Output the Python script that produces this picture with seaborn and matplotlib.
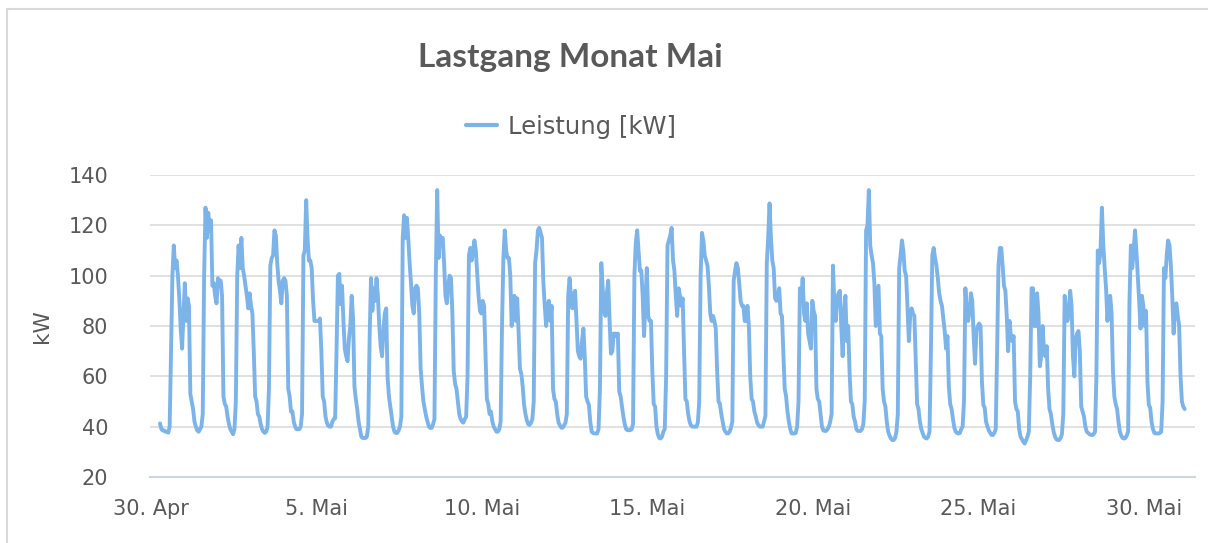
import numpy as np
import pandas as pd
import matplotlib
matplotlib.use("Agg")
import matplotlib.pyplot as plt
from matplotlib.lines import Line2D
import seaborn as sns

# Hourly load values (kW), one list per day
d_apr30 = [41.3, 39, 38.5, 38.5, 38, 38, 37.6, 40, 70, 100, 112, 103, 106, 100, 91, 79, 71, 84, 97, 82, 91, 88, 53, 50]
d_may01 = [47, 42, 40, 38.5, 38, 39, 40, 45, 100, 127, 115, 125, 118, 122, 96, 97, 92, 89, 99, 98, 98, 92, 52, 49]
d_may02 = [48, 44, 41, 39, 38, 37, 39, 50, 100, 112, 103, 115, 103, 100, 96, 92, 87, 93, 88, 85, 70, 52, 50, 45]
d_may03 = [44, 41, 39, 38, 37.5, 38, 40, 55, 104, 107, 108, 118, 116, 105, 98, 94, 89, 98, 99, 98, 92, 55, 52, 46]
d_may04 = [46, 42, 40, 39, 39, 39, 40, 45, 108, 110, 130, 115, 106, 106, 103, 90, 82, 82, 82, 82, 83, 70, 52, 50]
d_may05 = [44, 41.6, 40.3, 40, 40, 42, 43, 43.3, 70, 100, 100.7, 88.7, 96, 82, 71, 68, 66, 75, 80, 92, 83, 56, 51, 47]
d_may06 = [42, 39, 36, 35.5, 35.5, 35.5, 36, 40, 75, 99, 86, 95, 90, 99, 92, 80, 72, 68, 78, 85, 87, 60, 52, 48]
d_may07 = [44, 40, 38, 37.5, 37.5, 38.5, 40, 44, 115, 124, 115, 123, 115, 105, 97, 88, 85, 95, 96, 95, 85, 63, 56, 50]
d_may08 = [47, 44, 42, 40, 39.5, 39.5, 41, 43, 100, 134, 107, 116, 114, 115, 105, 92, 89, 96, 100, 99, 85, 62, 57, 55]
d_may09 = [50, 45, 43, 42, 41.6, 43, 44, 60, 108, 111, 106, 110, 114, 110, 101, 92, 86, 85, 90, 88, 70, 51, 49, 45]
d_may10 = [46, 42, 40, 39, 38, 38, 39, 42, 80, 107, 118, 110, 107, 107, 100, 80, 88, 92, 82, 91, 78, 63, 61, 56]
d_may11 = [48.7, 45, 42.5, 41, 40.7, 41.5, 43, 50, 105, 110, 118, 119, 117, 115, 97, 88, 80, 88, 90, 82, 88, 55, 51, 50]
d_may12 = [45, 41.6, 40.5, 39.6, 39.6, 40.5, 41.5, 45, 92, 99, 92, 87, 92, 94, 82, 70, 68, 67, 74, 79, 68, 52, 50, 48.7]
d_may13 = [42, 38, 37.5, 37.3, 37.3, 37.3, 39, 55, 105, 95, 86, 84, 93, 98, 82, 69, 70, 77, 77, 76, 77, 54, 52, 48]
d_may14 = [44, 41, 39, 38.6, 38.6, 38.6, 39, 41, 100, 113, 118, 110, 102, 102, 92, 76, 90, 103, 84, 82, 82, 62, 49, 48]
d_may15 = [40, 37, 35.5, 35.3, 36, 38, 39, 60, 112, 114, 116, 119, 106, 102, 92, 84, 95, 92, 88, 91, 70, 51, 50, 45]
d_may16 = [42, 40.5, 40, 40, 40, 40, 41.6, 50, 100, 117, 114, 108, 106, 104, 96, 85, 82, 84, 82, 79, 62, 50, 49, 45]
d_may17 = [42, 39, 38, 37.3, 37.3, 38, 39.5, 42, 98, 102, 105, 103, 97, 90, 88, 88, 82, 82, 88, 80, 60, 51, 50, 46]
d_may18 = [44, 41.6, 40.5, 40, 40, 40, 42, 44.3, 105, 115, 128.7, 115, 106, 103, 91, 90, 92, 95, 85, 84, 70, 55, 52, 46]
d_may19 = [42, 39, 37.3, 37.3, 37.3, 37.5, 40, 50, 95, 90, 99, 85, 82, 89, 77, 74, 71, 90, 86, 84, 55, 51, 50, 45]
d_may20 = [40, 38.5, 38.3, 38.3, 39, 40, 42, 45, 104, 88, 82, 91, 93, 94, 80, 68, 85, 92, 74, 80, 62, 50, 49, 44]
d_may21 = [42, 39, 38.3, 38.3, 38.3, 39, 41, 50, 118, 120, 134, 112, 108, 105, 97, 80, 88, 96, 77, 76, 55, 50, 48, 42]
d_may22 = [38, 36.5, 35.3, 34.7, 34.7, 35.5, 38, 45, 103, 108, 114, 110, 102, 100, 88, 74, 84, 87, 85, 84, 66, 49, 47, 42]
d_may23 = [39, 37.5, 36, 35.5, 35.3, 36, 38, 70, 108, 111, 107, 104, 99, 93, 90, 88, 83, 78, 71, 76, 56, 49, 47, 43]
d_may24 = [39.5, 38, 37.5, 37.3, 37.5, 39, 40, 50, 95, 85, 82, 86, 93, 90, 76, 65, 78, 80, 81, 80, 58, 48.7, 47.5, 42]
d_may25 = [40, 38.5, 37.5, 36.7, 36.7, 37.5, 39, 70, 104, 111, 111, 104, 96, 94, 84, 70, 82, 76, 74, 76, 50, 47, 46, 39]
d_may26 = [36, 35, 34, 33.3, 34.5, 36, 38, 60, 95, 95, 80, 80, 93, 85, 64, 68, 80, 70, 68, 72, 55, 47, 45, 41]
d_may27 = [38, 36, 35, 34.7, 34.7, 35.5, 37, 45, 92, 86, 82, 86, 94, 88, 68, 60, 75, 77, 78, 70, 48, 46, 44, 40]
d_may28 = [38, 37.5, 37, 36.7, 36.7, 37, 38, 60, 110, 105, 110, 127, 112, 103, 95, 82, 90, 92, 85, 62, 52, 49, 47, 42]
d_may29 = [38, 36.5, 35.5, 35.3, 35.5, 36.5, 38, 90, 112, 103, 110, 118, 110, 100, 90, 79, 92, 88, 80, 86, 58, 48.7, 47.5, 42]
d_may30 = [39, 37.5, 37.3, 37.3, 37.3, 37.5, 38, 50, 103, 99, 108, 114, 112, 104, 92, 77, 88, 89, 84, 80, 60, 50, 48, 47]

days = [d_apr30, d_may01, d_may02, d_may03, d_may04, d_may05, d_may06, d_may07,
        d_may08, d_may09, d_may10, d_may11, d_may12, d_may13, d_may14, d_may15,
        d_may16, d_may17, d_may18, d_may19, d_may20, d_may21, d_may22, d_may23,
        d_may24, d_may25, d_may26, d_may27, d_may28, d_may29, d_may30]

tick_dates = ["2024-04-30", "2024-05-05", "2024-05-10", "2024-05-15",
              "2024-05-20", "2024-05-25", "2024-05-30"]
tick_labels = ["30. Apr", "5. Mai", "10. Mai", "15. Mai", "20. Mai", "25. Mai", "30. Mai"]
y_ticks = [20, 40, 60, 80, 100, 120, 140]

values = [v for d in days for v in d]
times = pd.date_range("2024-04-30 06:30", periods=len(values), freq="h")
df = pd.DataFrame({"Zeit": times, "Leistung": values})

sns.set_theme(style="white")
plt.rcParams["font.family"] = ["DejaVu Sans"]

TXT = "#595959"
LINE = "#7cb4ea"

fig = plt.figure(figsize=(12.08, 5.43), dpi=100)
ax = fig.add_axes([150 / 1208, 1 - 477 / 543, 1045 / 1208, 302 / 543])

sns.lineplot(data=df, x="Zeit", y="Leistung", ax=ax, color=LINE, linewidth=2.8,
             legend=False)

ax.set_ylim(20, 140)
ax.set_xlim(pd.Timestamp("2024-04-29 23:15"), pd.Timestamp("2024-05-31 13:00"))
ax.set_yticks(y_ticks)
ax.set_yticklabels([str(t) for t in y_ticks])
ax.set_xticks([pd.Timestamp(t) for t in tick_dates])
ax.set_xticklabels(tick_labels)
ax.tick_params(axis="both", length=0, labelsize=15, labelcolor=TXT)
ax.tick_params(axis="x", pad=16)
ax.tick_params(axis="y", pad=30)

ax.grid(axis="y", color="#d9d9d9", linewidth=1.1)
ax.grid(axis="x", visible=False)
for s in ["left", "right", "top"]:
    ax.spines[s].set_visible(False)
ax.spines["bottom"].set_color("#cdd6e6")
ax.spines["bottom"].set_linewidth(1.5)
ax.set_axisbelow(True)

ax.set_xlabel("")
ax.set_ylabel("kW", fontsize=15.5, color=TXT)
ax.yaxis.set_label_coords(-0.094, 0.5)

# title and legend
fig.text(570 / 1208, 1 - 57 / 543, "Lastgang Monat Mai", ha="center", va="center",
         fontsize=24, fontweight="bold", color=TXT, family=["Lato", "DejaVu Sans"])
handle = Line2D([], [], color=LINE, linewidth=3)
fig.legend([handle], ["Leistung [kW]"], loc="center", bbox_to_anchor=(571 / 1208, 1 - 127 / 543),
           frameon=False, fontsize=17.5, labelcolor=TXT, handlelength=1.25, handletextpad=0.45)

# chart area border
fig.add_artist(Line2D([7.5 / 1208, 7.5 / 1208], [0, 1 - 9 / 543], transform=fig.transFigure,
                      color="#d9d9d9", linewidth=1.5))
fig.add_artist(Line2D([7.5 / 1208, 1], [1 - 9 / 543, 1 - 9 / 543], transform=fig.transFigure,
                      color="#d9d9d9", linewidth=1.5))

fig.savefig("out.png", dpi=100)
